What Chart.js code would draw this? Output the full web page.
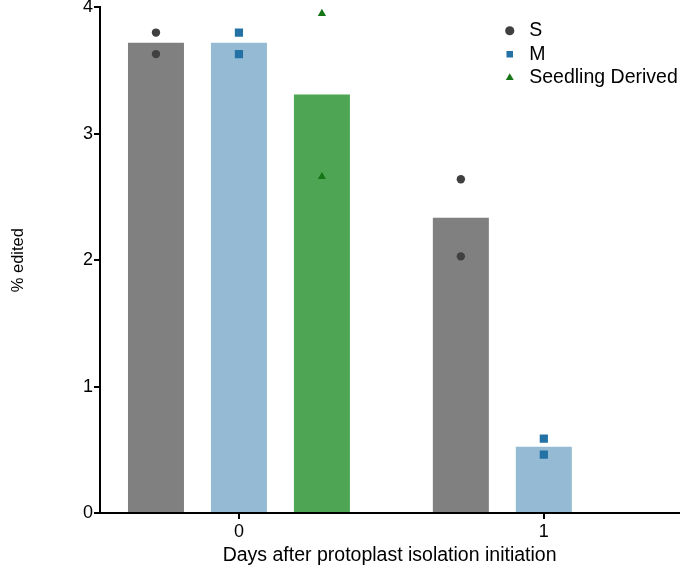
<!DOCTYPE html>
<html><head><meta charset="utf-8">
<script src="https://cdn.jsdelivr.net/npm/chart.js@4/dist/chart.umd.min.js"></script>
<style>html,body{margin:0;padding:0;background:#fff}</style>
</head><body>
<canvas id="c" width="685" height="568"></canvas>
<script>
// ---- data ----
const categories = ['0', '1'];                 // days after protoplast isolation initiation
const seriesNames = ['S', 'M', 'Seedling Derived'];
const barS = [3.72, 2.335];                    // bar heights (means)
const barM = [3.72, 0.525];
const barSeedling = [3.31];
const pointsS = [[3.80, 3.63], [2.64, 2.03]];  // replicate values per category
const pointsM = [[3.80, 3.63], [0.588, 0.462]];
const pointsSeedling = [[3.95, 2.66]];
const yTicks = [0, 1, 2, 3, 4];

// ---- styling ----
const FONT = "'Liberation Sans', Arial, Helvetica, sans-serif";
const barColors = ['#808080', '#94bbd3', '#4ea553'];
const pointColors = ['#404040', '#2471a6', '#167516'];
const pointStyles = ['circle', 'rect', 'triangle'];
const pointRadii = [4.2, 5.8, 4.8];
const CAT_PCT = 0.8164, BAR_PCT = 0.675;
const slot = CAT_PCT / seriesNames.length;

const barSeries = [barS, barM, barSeedling];
const pointSeries = [pointsS, pointsM, pointsSeedling];

function barData(vals) { return vals.map((v, i) => ({x: i, y: v})); }
function ptData(groups, s) {
  const off = (s - 1) * slot;
  const out = [];
  groups.forEach((g, i) => g.forEach(v => out.push({x: i + off, y: v})));
  return out;
}

const datasets = [];
seriesNames.forEach((name, s) => {
  datasets.push({
    type: 'scatter', label: name, data: ptData(pointSeries[s], s),
    pointStyle: pointStyles[s], pointRadius: pointRadii[s], pointHoverRadius: pointRadii[s],
    backgroundColor: pointColors[s], borderColor: pointColors[s], borderWidth: 0, order: 0
  });
});
seriesNames.forEach((name, s) => {
  datasets.push({
    type: 'bar', label: name + ' mean', data: barData(barSeries[s]),
    backgroundColor: barColors[s], borderWidth: 0,
    barPercentage: BAR_PCT, categoryPercentage: CAT_PCT, order: 1
  });
});

const legendPlace = {
  id: 'legendPlace',
  afterLayout(chart) {
    const lg = chart.legend;
    if (lg) { lg.left = 496; lg.top = 17; }
  }
};

new Chart(document.getElementById('c'), {
  type: 'bar',
  data: { datasets },
  plugins: [legendPlace],
  options: {
    responsive: false, animation: false, devicePixelRatio: 1,
    layout: { padding: { top: 7, right: 0, bottom: 0, left: 0 } },
    plugins: {
      legend: {
        position: 'chartArea', align: 'start',
        labels: {
          usePointStyle: true, boxWidth: 20, boxHeight: 6.5, padding: 4, color: '#000',
          font: { family: FONT, size: 19.5 },
          filter: (item, data) => data.datasets[item.datasetIndex].type === 'scatter'
        }
      },
      tooltip: { enabled: false }
    },
    scales: {
      x: {
        type: 'linear', min: -0.4557, max: 1.444, offset: false,
        afterBuildTicks: sc => { sc.ticks = categories.map((c, i) => ({value: i})); },
        afterFit: sc => { sc.height = 55; },
        ticks: { callback: v => categories[v], color: '#000', font: { family: FONT, size: 18 }, padding: 2, maxRotation: 0, autoSkip: false },
        grid: { offset: false, drawOnChartArea: false, drawTicks: true, tickLength: 6, color: '#000', lineWidth: 2 },
        border: { color: '#000', width: 2 },
        title: { display: true, text: 'Days after protoplast isolation initiation', color: '#000', font: { family: FONT, size: 19.5 }, padding: { top: 0, bottom: 1 } }
      },
      y: {
        min: 0, max: 4,
        afterBuildTicks: sc => { sc.ticks = yTicks.map(v => ({value: v})); },
        afterFit: sc => { sc.width = 100; },
        ticks: { color: '#000', font: { family: FONT, size: 18, lineHeight: 0.7 }, padding: 1 },
        grid: { offset: false, drawOnChartArea: false, drawTicks: true, tickLength: 6, color: '#000', lineWidth: 2 },
        border: { color: '#000', width: 2 },
        title: { display: true, text: '% edited', color: '#000', font: { family: FONT, size: 16.5 }, padding: { top: 9, bottom: 0 } }
      }
    }
  }
});
</script>
</body></html>
